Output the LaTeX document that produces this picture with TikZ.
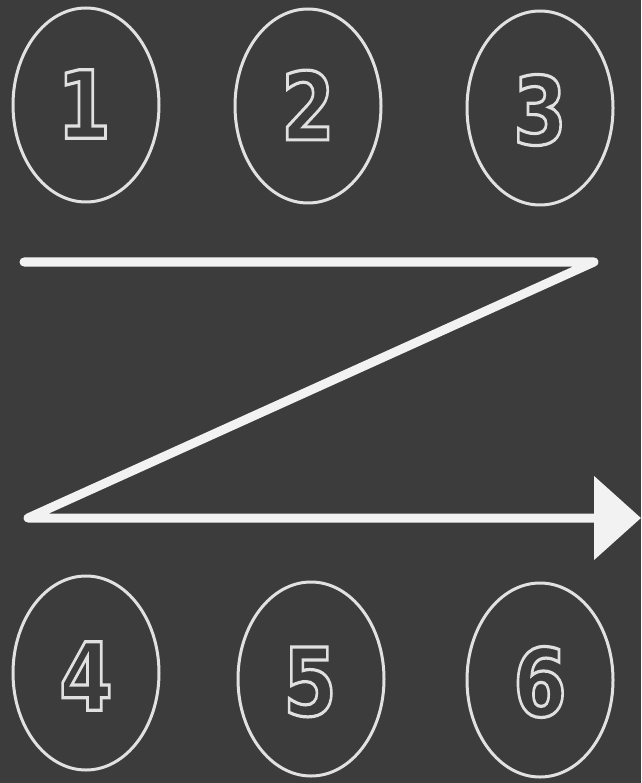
\documentclass[tikz,border=0pt]{standalone}
\usepackage{fontspec}
\setmainfont{DejaVu Sans}
\newfontfamily\digitfont[FakeBold=3.4]{DejaVu Sans Bold}
\usetikzlibrary{shapes.geometric,arrows.meta}
\definecolor{board}{RGB}{60,60,60}
\definecolor{chalk}{RGB}{225,225,225}
\definecolor{chalkline}{RGB}{242,242,242}
\newcommand{\chalkdigit}[1]{\scalebox{0.82}[1]{\special{pdf:bcolor [0.235 0.235 0.235] [0.88 0.88 0.88]}\fontsize{94pt}{94pt}\digitfont #1\special{pdf:ecolor}}}
\tikzset{
  ring/.style={ellipse, draw=chalk, line width=3pt, minimum width=146pt, minimum height=194pt, inner sep=0pt},
  digit/.style={inner sep=0pt},
  zline/.style={draw=chalkline, line width=9pt, line join=round, line cap=round},
}
\begin{document}
\begin{tikzpicture}[x=1pt,y=-1pt]
\fill[board] (0,0) rectangle (641,783);
\useasboundingbox (0,0) rectangle (641,783);
\node[ring] (e1) at (86,105) {};
\node[ring] (e2) at (308,106) {};
\node[ring] (e3) at (540,108) {};
\node[ring] (e4) at (86,673) {};
\node[ring] (e5) at (311,679) {};
\node[ring] (e6) at (540,680) {};
\node[digit] (d1) at (84,104) {\chalkdigit{1}};
\node[digit] (d2) at (308,105) {\chalkdigit{2}};
\node[digit] (d3) at (540,110) {\chalkdigit{3}};
\node[digit] (d4) at (86,676) {\chalkdigit{4}};
\node[digit] (d5) at (310,682) {\chalkdigit{5}};
\node[digit] (d6) at (540,682) {\chalkdigit{6}};
\coordinate (za) at (24,262);
\coordinate (zb) at (594,262);
\coordinate (zc) at (28,518);
\coordinate (zd) at (641,518);
\draw[zline, -{Triangle[length=47pt,width=82pt,line cap=butt]}] (za) -- (zb) -- (zc) -- (zd);
\end{tikzpicture}
\end{document}
